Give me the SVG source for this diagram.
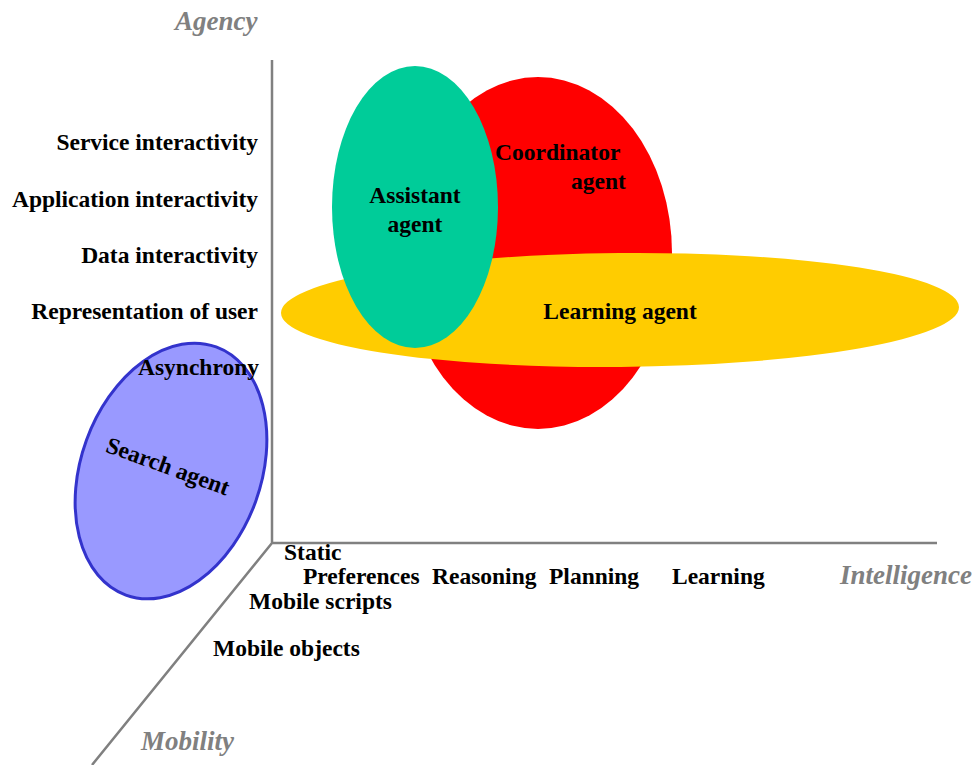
<svg xmlns="http://www.w3.org/2000/svg" width="975" height="765" viewBox="0 0 975 765">
<style>
.lbl{font-family:"Liberation Serif","Times New Roman",serif;font-weight:bold;font-size:23.5px;fill:#000}
.ax{font-family:"Liberation Serif","Times New Roman",serif;font-weight:bold;font-style:italic;font-size:27px;fill:#808080}
.axis{stroke:#808080;stroke-width:2.5;fill:none}
</style>
<rect width="975" height="765" fill="#fff"/>
<g id="axes">
<path class="axis" d="M272,60 V543 H937 M272,543 L92,765"/>
</g>
<g id="coordinator">
<ellipse cx="538" cy="253" rx="134" ry="176" fill="#FF0000"/>
<text class="lbl" x="495" y="160">Coordinator</text>
<text class="lbl" x="571" y="189">agent</text>
</g>
<g id="learning">
<ellipse cx="620" cy="310" rx="339" ry="57" fill="#FFCC00" transform="rotate(-0.5 620 310)"/>
<text class="lbl" x="620" y="319" text-anchor="middle">Learning agent</text>
</g>
<g id="assistant">
<ellipse cx="415" cy="207" rx="83" ry="141" fill="#00CC99"/>
<text class="lbl" x="415" y="203" text-anchor="middle">Assistant</text>
<text class="lbl" x="415" y="232" text-anchor="middle">agent</text>
</g>
<g id="search">
<ellipse cx="171" cy="471" rx="90" ry="132" fill="#9999FF" stroke="#3333CC" stroke-width="3" transform="rotate(20 171 471)"/>
<text class="lbl" x="168" y="474" text-anchor="middle" transform="rotate(20 168 466)">Search agent</text>
</g>
<g id="agency-labels">
<text class="lbl" x="258" y="150" text-anchor="end">Service interactivity</text>
<text class="lbl" x="258" y="207" text-anchor="end">Application interactivity</text>
<text class="lbl" x="258" y="263" text-anchor="end">Data interactivity</text>
<text class="lbl" x="258" y="319" text-anchor="end">Representation of user</text>
<text class="lbl" x="259" y="375" text-anchor="end">Asynchrony</text>
</g>
<g id="intel-labels">
<text class="lbl" x="303" y="584">Preferences</text>
<text class="lbl" x="432" y="584">Reasoning</text>
<text class="lbl" x="549" y="584">Planning</text>
<text class="lbl" x="672" y="584">Learning</text>
</g>
<g id="mobility-labels">
<text class="lbl" x="284" y="560">Static</text>
<text class="lbl" x="249" y="609">Mobile scripts</text>
<text class="lbl" x="213" y="656">Mobile objects</text>
</g>
<g id="axis-titles">
<text class="ax" x="175" y="30">Agency</text>
<text class="ax" x="840" y="584">Intelligence</text>
<text class="ax" x="141" y="750">Mobility</text>
</g>
</svg>
